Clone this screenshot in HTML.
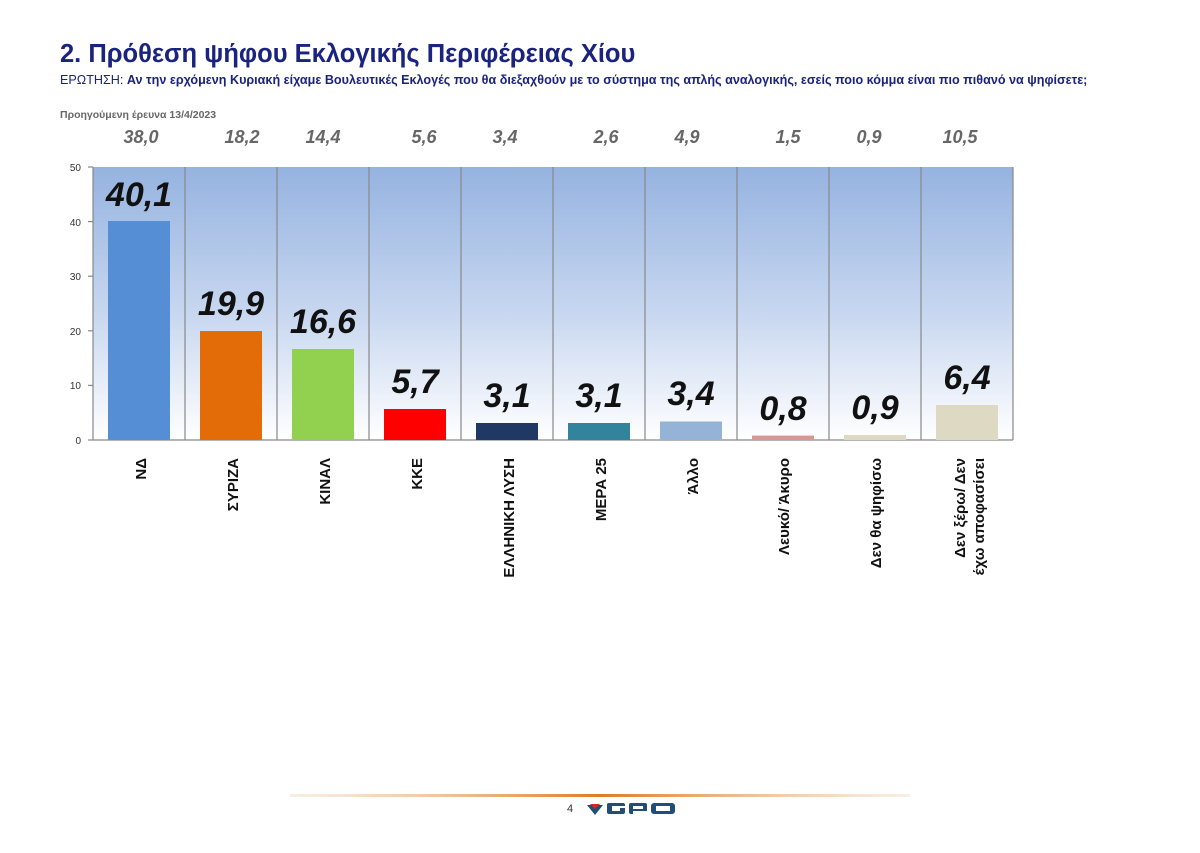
<!DOCTYPE html>
<html><head><meta charset="utf-8"><style>
body{margin:0;background:#fff;width:1200px;height:848px;overflow:hidden;font-family:"Liberation Sans","DejaVu Sans",sans-serif}
</style></head><body>
<svg width="1200" height="848" xmlns="http://www.w3.org/2000/svg" font-family="Liberation Sans, DejaVu Sans, sans-serif">
<defs>
<linearGradient id="bg" x1="0" y1="0" x2="0" y2="1">
<stop offset="0" stop-color="#95b3e0"/><stop offset="0.55" stop-color="#c9d8f0"/><stop offset="1" stop-color="#ffffff"/>
</linearGradient>
<linearGradient id="ln" x1="0" y1="0" x2="1" y2="0">
<stop offset="0" stop-color="#e8c9a8" stop-opacity="0.3"/><stop offset="0.5" stop-color="#e07b20"/><stop offset="1" stop-color="#e8c9a8" stop-opacity="0.3"/>
</linearGradient>
</defs>
<text x="60" y="62" font-size="25.5" font-weight="bold" fill="#1a237e">2. Πρόθεση ψήφου Εκλογικής Περιφέρειας Χίου</text>
<text x="60" y="84" font-size="12.6" fill="#1a237e">ΕΡΩΤΗΣΗ: <tspan font-weight="bold">Αν την ερχόμενη Κυριακή είχαμε Βουλευτικές Εκλογές που θα διεξαχθούν με το σύστημα της απλής αναλογικής, εσείς ποιο κόμμα είναι πιο πιθανό να ψηφίσετε;</tspan></text>
<text x="60" y="118" font-size="10.5" font-weight="bold" fill="#666">Προηγούμενη έρευνα 13/4/2023</text>
<g font-size="18" font-weight="bold" font-style="italic" fill="#666" text-anchor="middle">
<text x="141" y="143">38,0</text><text x="242" y="143">18,2</text><text x="323" y="143">14,4</text><text x="424" y="143">5,6</text><text x="505" y="143">3,4</text><text x="606" y="143">2,6</text><text x="687" y="143">4,9</text><text x="788" y="143">1,5</text><text x="869" y="143">0,9</text><text x="960" y="143">10,5</text>
</g>
<rect x="93" y="167" width="920" height="273" fill="url(#bg)"/>
<g stroke="#888" stroke-width="1.2">
<line x1="185" y1="167" x2="185" y2="440"/><line x1="277" y1="167" x2="277" y2="440"/><line x1="369" y1="167" x2="369" y2="440"/><line x1="461" y1="167" x2="461" y2="440"/><line x1="553" y1="167" x2="553" y2="440"/><line x1="645" y1="167" x2="645" y2="440"/><line x1="737" y1="167" x2="737" y2="440"/><line x1="829" y1="167" x2="829" y2="440"/><line x1="921" y1="167" x2="921" y2="440"/><line x1="1013" y1="167" x2="1013" y2="440"/>
<line x1="93" y1="167" x2="93" y2="440"/><line x1="93" y1="440" x2="1013" y2="440"/>
<line x1="88" y1="167" x2="93" y2="167"/><line x1="88" y1="221.6" x2="93" y2="221.6"/><line x1="88" y1="276.2" x2="93" y2="276.2"/><line x1="88" y1="330.8" x2="93" y2="330.8"/><line x1="88" y1="385.4" x2="93" y2="385.4"/><line x1="88" y1="440" x2="93" y2="440"/>
</g>
<g font-size="10" fill="#333" text-anchor="end">
<text x="81" y="171">50</text><text x="81" y="226">40</text><text x="81" y="280">30</text><text x="81" y="335">20</text><text x="81" y="389">10</text><text x="81" y="444">0</text>
</g>
<rect x="108" y="221" width="62" height="219" fill="#558ed5"/>
<rect x="200" y="331" width="62" height="109" fill="#e36c09"/>
<rect x="292" y="349" width="62" height="91" fill="#92d050"/>
<rect x="384" y="409" width="62" height="31" fill="#ff0000"/>
<rect x="476" y="423" width="62" height="17" fill="#1f3864"/>
<rect x="568" y="423" width="62" height="17" fill="#31849b"/>
<rect x="660" y="421.5" width="62" height="18.5" fill="#95b3d7"/>
<rect x="752" y="435.6" width="62" height="4.4" fill="#d99694"/>
<rect x="844" y="435" width="62" height="5" fill="#ddd9c3"/>
<rect x="936" y="405" width="62" height="35" fill="#ddd9c3"/>
<g font-size="34" font-weight="bold" font-style="italic" fill="#111" text-anchor="middle">
<text x="139" y="206">40,1</text><text x="231" y="315">19,9</text><text x="323" y="333">16,6</text><text x="415" y="393">5,7</text><text x="507" y="407">3,1</text><text x="599" y="407">3,1</text><text x="691" y="405">3,4</text><text x="783" y="420">0,8</text><text x="875" y="419">0,9</text><text x="967" y="389">6,4</text>
</g>
<g font-size="15" font-weight="bold" fill="#111" text-anchor="end">
<text transform="translate(146,458) rotate(-90)">ΝΔ</text>
<text transform="translate(238,458) rotate(-90)">ΣΥΡΙΖΑ</text>
<text transform="translate(330,458) rotate(-90)">ΚΙΝΑΛ</text>
<text transform="translate(422,458) rotate(-90)">ΚΚΕ</text>
<text transform="translate(514,458) rotate(-90)">ΕΛΛΗΝΙΚΗ ΛΥΣΗ</text>
<text transform="translate(606,458) rotate(-90)">ΜΕΡΑ 25</text>
<text transform="translate(698,458) rotate(-90)">Άλλο</text>
<text transform="translate(789,458) rotate(-90)">Λευκό/ Άκυρο</text>
<text transform="translate(881,458) rotate(-90)">Δεν θα ψηφίσω</text>
<text transform="translate(965,458) rotate(-90)">Δεν ξέρω/ Δεν</text>
<text transform="translate(984,458) rotate(-90)">έχω αποφασίσει</text>
</g>
<rect x="290" y="794" width="620" height="3" fill="url(#ln)"/>
<text x="567" y="812" font-size="11" fill="#333">4</text>
<path d="M587 805 L603 805 L595 815 Z" fill="#1f4e79"/><path d="M590 804 L600 804 L595 809 Z" fill="#e02020"/>
<g fill="#1f4e79"><rect x="607" y="803" width="18" height="11" rx="2"/><rect x="629" y="803" width="18" height="11" rx="2"/><rect x="651" y="803" width="24" height="11" rx="3"/></g>
<g fill="#fff"><rect x="612" y="806" width="13" height="2"/><rect x="612" y="808" width="8" height="3"/><rect x="633" y="806" width="10" height="3"/><rect x="633" y="811" width="14" height="3"/><rect x="656" y="806" width="14" height="5"/></g>
</svg>
</body></html>
